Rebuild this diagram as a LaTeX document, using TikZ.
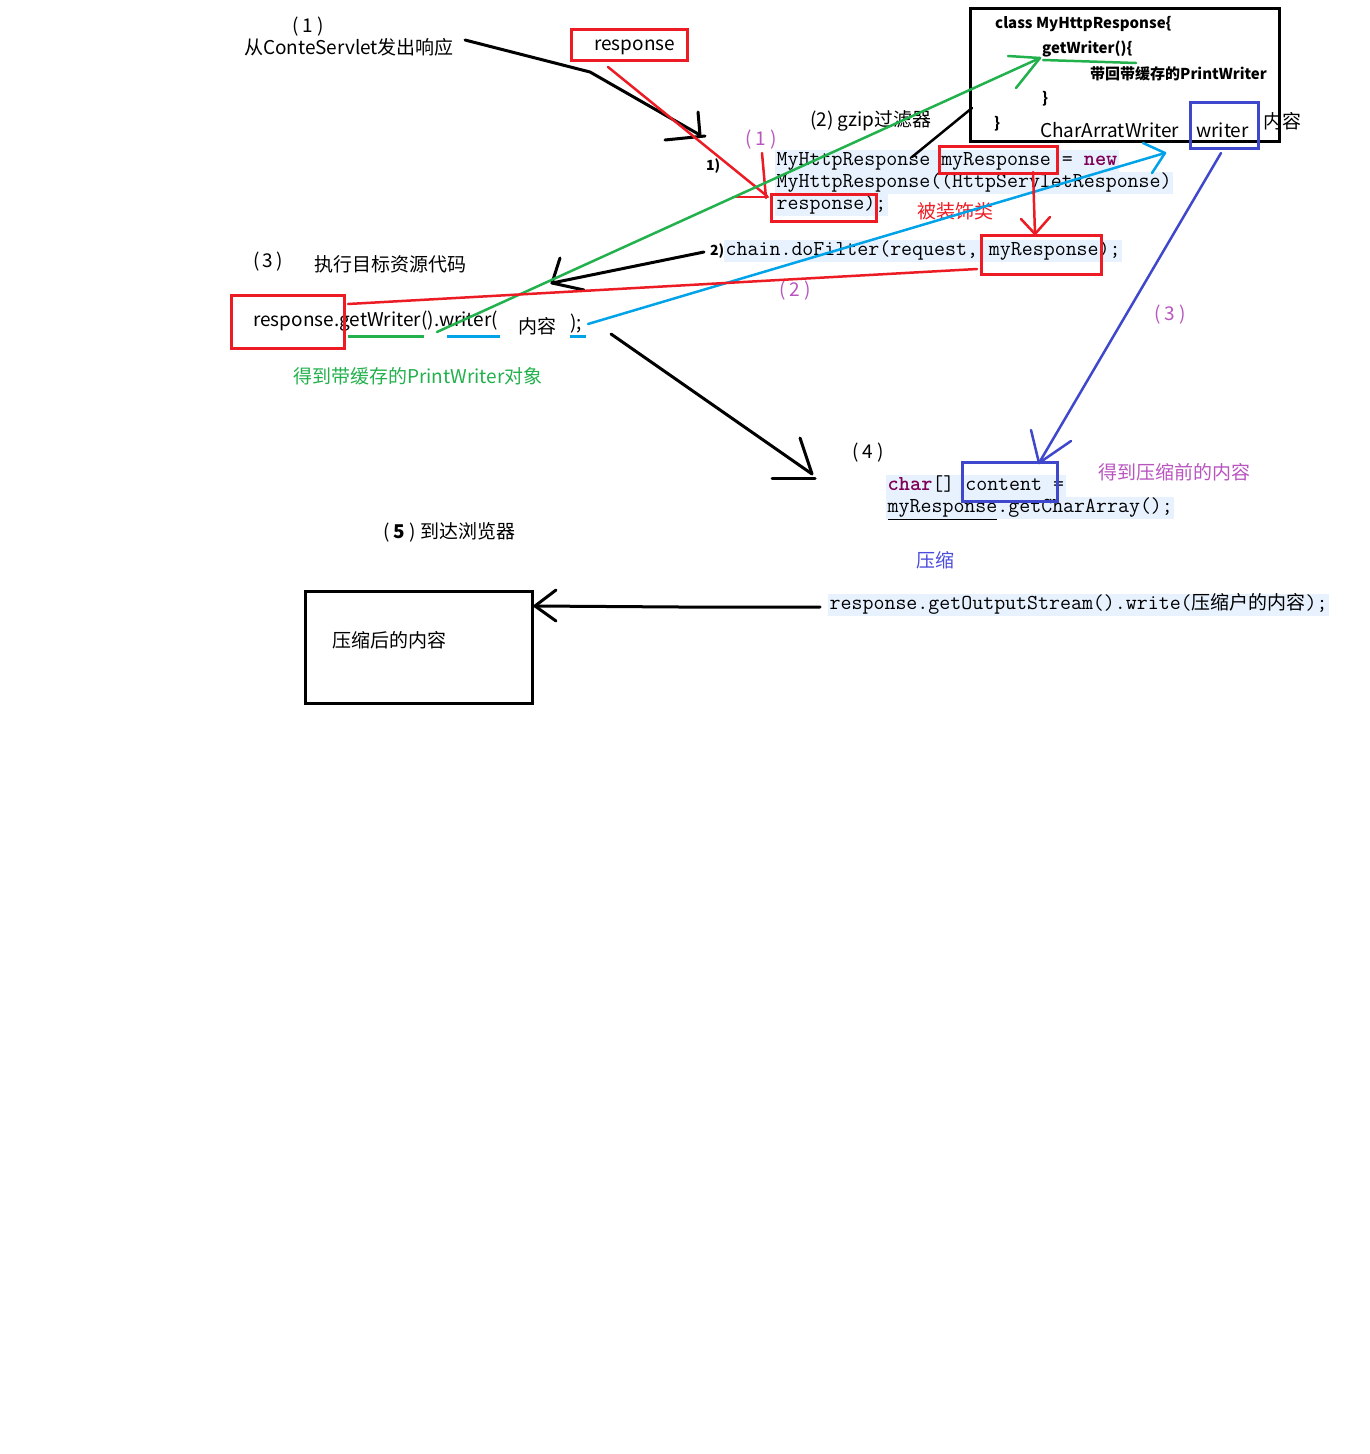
\documentclass[tikz,border=0pt]{standalone}
\usepackage{fontspec}
\setmainfont{Noto Sans CJK SC}
\usetikzlibrary{arrows.meta}
\definecolor{codebg}{HTML}{E8F2FE}
\definecolor{mred}{HTML}{ED1C24}
\definecolor{mgreen}{HTML}{22B14C}
\definecolor{mblue}{HTML}{00A2E8}
\definecolor{mindigo}{HTML}{3F48CC}
\definecolor{mpurple}{HTML}{B955BF}
\definecolor{kwpurple}{HTML}{7F0055}
\definecolor{zipblue}{HTML}{4B4BDC}
\tikzset{
  lbl/.style={inner sep=0pt, anchor=west, yshift=-2.5pt, font=\fontsize{19}{23}\selectfont},
  boldlbl/.style={inner sep=0pt, anchor=west, yshift=-2pt, font=\bfseries\fontsize{15}{18}\selectfont},
  tinylbl/.style={inner sep=0pt, anchor=west, yshift=-1.5pt, font=\bfseries\fontsize{14}{16}\selectfont},
  codeln/.style={inner xsep=1.5pt, inner ysep=0.5pt, anchor=west, fill=codebg, yshift=-1pt,
    text height=15pt, text depth=6pt, font=\ttfamily\fontsize{21.3}{22}\selectfont},
  inkline/.style={line width=3pt, line cap=round, line join=round},
  thinink/.style={line width=2.5pt, line cap=round, line join=round},
  hlbox/.style={draw, line width=3pt, inner sep=0pt, anchor=north west},
}
\begin{document}
\begin{tikzpicture}[x=1pt,y=-1pt]
\useasboundingbox[fill=white] (0,0) rectangle (1370,1454);

% ---------- code snippets (drawn first, under the strokes) ----------
\node[codeln] (c1) at (775,160) {MyHttpResponse myResponse = {\bfseries\color{kwpurple}new}};
\node[codeln] (c2) at (775,182) {MyHttpResponse((HttpServletResponse)};
\node[codeln] (c3) at (775,203.5) {response);};
\node[codeln] (c4) at (724,250) {chain.doFilter(request, myResponse);};
\node[codeln] (c5) at (886,485) {{\bfseries\color{kwpurple}char}[] content =};
\node[codeln] (c6) at (886,507) {\underline{myResponse}.getCharArray();};
\node[codeln] (c7) at (828,604) {response.getOutputStream().write({\rmfamily\fontsize{19}{22}\selectfont 压缩户的内容});};

% ---------- plain labels ----------
\node[lbl] (n1) at (292,24) {( 1 )};
\node[lbl] (src) at (244,45) {从ConteServlet发出响应};
\node[lbl] (gz) at (810,118) {(2) gzip过滤器};
\node[tinylbl] (s1) at (706,165) {1)};
\node[tinylbl] (s2) at (710,250) {2)};
\node[lbl, text=mpurple] (p1) at (745,137) {( 1 )};
\node[lbl, text=mpurple] (p2) at (779,288) {( 2 )};
\node[lbl, text=mpurple] (p3) at (1154,312) {( 3 )};
\node[lbl, text=mred] (deco) at (917,209) {被装饰类};
\node[lbl] (n3) at (253,259) {(\,3\,)};
\node[lbl] (exec) at (314,262) {执行目标资源代码};
\node[lbl] (call) at (253,319) {response.getWriter().writer(};
\node[lbl] (body) at (518,324) {内容};
\node[lbl] (close) at (570,321) {);};
\node[lbl, text=mgreen] (gotpw) at (293,374) {得到带缓存的PrintWriter对象};
\node[lbl] (n4) at (852,450) {( 4 )};
\node[lbl, text=mpurple] (before) at (1098,470) {得到压缩前的内容};
\node[lbl, text=zipblue] (zip) at (916,558) {压缩};
\node[lbl] (n5) at (383,530) {( {\bfseries 5} ) 到达浏览器};

% ---------- class box ----------
\node[hlbox, minimum width=309pt, minimum height=133pt] (cls) at (969,7) {};
\node[boldlbl] (k1) at (995,22) {class MyHttpResponse\{};
\node[boldlbl] (k2) at (1042,47) {getWriter()\{};
\node[boldlbl] (k3) at (1090,72) {带回带缓存的PrintWriter};
\node[boldlbl] (k4) at (1042,97) {\}};
\node[boldlbl] (k5) at (994,122) {\}};
\node[lbl] (caw) at (1040,128) {CharArratWriter};
\node[lbl] (wr) at (1196,128) {writer};
\node[lbl] (wrc) at (1263,119) {内容};

% ---------- highlight boxes ----------
\node[hlbox, draw=mred, minimum width=116pt, minimum height=31pt] (resp) at (570,28) {};
\node[lbl] (resptxt) at (594,45) {response};
\node[hlbox, draw=mred, line width=2.5pt, minimum width=118pt, minimum height=27pt] (bmy) at (938,145) {};
\node[hlbox, draw=mred, line width=2.5pt, minimum width=105pt, minimum height=27pt] (bresp) at (770,193) {};
\node[hlbox, draw=mred, line width=2.5pt, minimum width=120pt, minimum height=39pt] (bmy2) at (980,234) {};
\node[hlbox, draw=mindigo, minimum width=68pt, minimum height=46pt] (bwr) at (1189,101) {};
\node[hlbox, draw=mindigo, minimum width=95pt, minimum height=39pt] (bcont) at (961,461) {};
\node[hlbox, draw=mred, minimum width=113pt, minimum height=53pt] (bleft) at (230,294) {};
\node[hlbox, minimum width=227pt, minimum height=112pt] (out) at (304,590) {};
\node[lbl] (outtxt) at (332,638) {压缩后的内容};

% ---------- underlines below the call ----------
\draw[inkline, mgreen, line cap=butt] (348,336) coordinate (ug1) -- (424,336) coordinate (ug2);
\draw[inkline, mblue, line cap=butt] (447,336) coordinate (ub1) -- (500,336) coordinate (ub2);
\draw[inkline, mblue, line cap=butt] (570,336) coordinate (ub3) -- (586,336) coordinate (ub4);

% ---------- connector end points ----------
\coordinate (a1s) at (465,40);   \coordinate (a1t) at (700,135);
\coordinate (a2s) at (608,67);   \coordinate (a2t) at (767,196);
\coordinate (a3s) at (704,252);  \coordinate (a3t) at (552,283);
\coordinate (a4s) at (437,332);  \coordinate (a4t) at (1040,58);
\coordinate (a5s) at (588,324);  \coordinate (a5t) at (1165,153);
\coordinate (a6s) at (1221,153); \coordinate (a6t) at (1039,463);
\coordinate (a7s) at (1033,172); \coordinate (a7t) at (1035,234);
\coordinate (a8s) at (611,334);  \coordinate (a8t) at (812,474);
\coordinate (a9s) at (820,607);  \coordinate (a9t) at (535,606);
\coordinate (l1s) at (348,304);  \coordinate (l1t) at (977,269);
\coordinate (l2s) at (912,157);  \coordinate (l2t) at (972,108);

% (1) response leaves the servlet
\draw[inkline] (a1s) -- (590,72) -- (a1t);
\draw[inkline] (a1t) ++(-2,-23) -- (a1t);
\draw[inkline] (a1t) ++(-35,5) -- ++(40,-4);
% response is wrapped
\draw[thinink, mred] (a2s) -- (a2t);
\draw[thinink, mred] (a2t) ++(-5,-43) -- ++(4,45);
\draw[thinink, mred] (a2t) ++(-34,1) -- ++(35,0);
% 2) chain.doFilter to the target code
\draw[inkline] (a3s) -- (a3t);
\draw[inkline] (a3t) ++(8,-25) -- (a3t) -- ++(32,7);
% getWriter() goes to the wrapper
\draw[thinink, mgreen] (a4s) -- (a4t);
\draw[thinink, mgreen] (a4t) ++(-32,-2) -- (a4t) -- ++(-24,30);
\draw[thinink, mgreen] (1043,60) -- (1136,63);
% writer( content ) goes to the CharArrayWriter
\draw[thinink, mblue] (a5s) -- (a5t);
\draw[thinink, mblue] (a5t) ++(-22,-10) -- (a5t) -- ++(-13,20);
% (3) content collected from writer
\draw[thinink, mindigo] (a6s) -- (a6t);
\draw[thinink, mindigo] (a6t) ++(-8,-33) -- (a6t) -- ++(32,-22);
% myResponse passed on
\draw[thinink, mred] (a7s) -- (a7t);
\draw[thinink, mred] (a7t) ++(-14,-15) -- (a7t) -- ++(15,-17);
% (4) back in the filter
\draw[inkline] (a8s) -- (a8t);
\draw[inkline] (a8t) ++(-12,-36) -- (a8t);
\draw[inkline] (a8t) ++(-40,4) -- ++(43,0);
% (5) compressed output to the browser
\draw[inkline] (a9s) -- (680,607) -- (a9t);
\draw[inkline] (a9t) ++(21,-16) -- (a9t) -- ++(21,15);
% plain links
\draw[thinink, mred] (l1s) -- (l1t);
\draw[inkline, line width=2.5pt] (l2s) -- (l2t);
\end{tikzpicture}
\end{document}
